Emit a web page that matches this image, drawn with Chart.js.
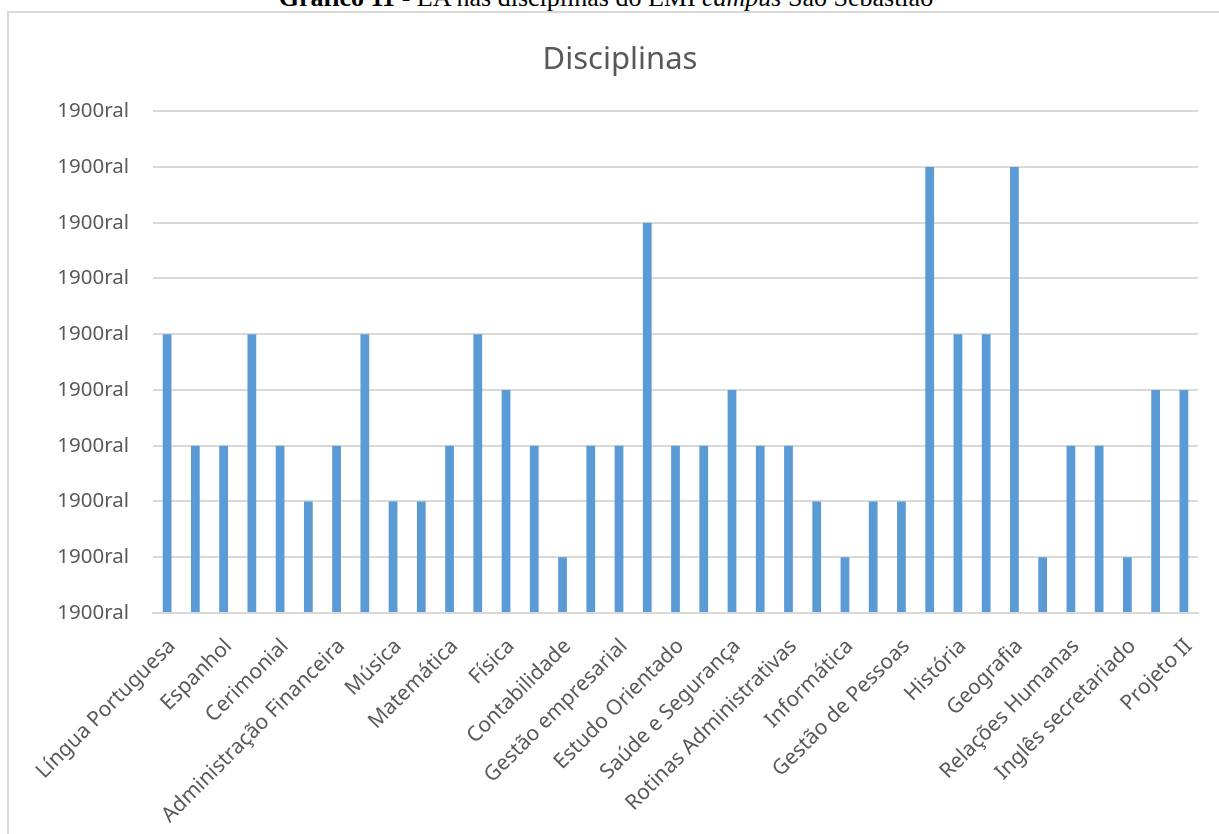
<!DOCTYPE html>
<html lang="pt">
<head>
    <meta charset="UTF-8">
    <title>Disciplinas</title>
    <script src="https://cdn.jsdelivr.net/npm/chart.js"></script>
    <style>
        html, body {
            margin: 0;
            padding: 0;
            width: 1219px;
            height: 834px;
            overflow: hidden;
            background: #fff;
        }

        .legenda {
            position: absolute;
            left: 0;
            width: 1212px;
            top: -15px;
            text-align: center;
            font-family: "Liberation Serif", "Times New Roman", serif;
            font-size: 26px;
            line-height: 26px;
            color: #000;
            white-space: nowrap;
        }

        .moldura {
            position: absolute;
            left: 7px;
            top: 11px;
            width: 1400px;
            height: 1000px;
            border-top: 2px solid #d9d9d9;
            border-left: 2px solid #d9d9d9;
        }

        .grafico {
            position: absolute;
            left: 0;
            top: 0;
            width: 1219px;
            height: 834px;
        }
    </style>
</head>
<body>
    <div class="legenda"><b>Gráfico 11</b> - EA nas disciplinas do EMI <i>campus</i> São Sebastião</div>
    <div class="moldura"></div>
    <div class="grafico">
        <canvas id="disciplinasChart" width="1219" height="834"></canvas>
    </div>

    <script>
        // Disciplinas (só as de índice par aparecem no eixo)
        const disciplinas = [
            'Língua Portuguesa', 'Literatura', 'Espanhol', 'Inglês', 'Cerimonial',
            'Arquivologia', 'Administração Financeira', 'Arte', 'Música', 'Educação Física',
            'Matemática', 'Química', 'Física', 'Biologia', 'Contabilidade',
            'Ética Profissional', 'Gestão empresarial', 'Redação Oficial', 'Estudo Orientado',
            'Sociologia', 'Saúde e Segurança', 'Filosofia', 'Rotinas Administrativas',
            'Técnicas de Secretariado', 'Informática', 'Empreendedorismo', 'Gestão de Pessoas',
            'Projeto I', 'História', 'Comunicação Empresarial', 'Geografia', 'Marketing',
            'Relações Humanas', 'Psicologia Organizacional', 'Inglês secretariado',
            'Gestão de Eventos', 'Projeto II'
        ];

        const ocorrencias = [
            5, 3, 3, 5, 3, 2, 3, 5, 2, 2,
            3, 5, 4, 3, 1, 3, 3, 7, 3, 3,
            4, 3, 3, 2, 1, 2, 2, 8, 5, 5,
            8, 1, 3, 3, 1, 4, 4
        ];

        // o eixo vertical exibe o mesmo rótulo em todas as linhas
        const rotuloEixoY = '1900ral';

        const cinzaTexto = '#595959';
        const cinzaGrade = '#d9d9d9';
        const fonte = '"Noto Sans", "Open Sans", sans-serif';

        const chart = new Chart(document.getElementById('disciplinasChart'), {
            type: 'bar',
            data: {
                labels: disciplinas,
                datasets: [{
                    label: 'Disciplinas',
                    data: ocorrencias,
                    backgroundColor: '#5b9bd5',
                    categoryPercentage: 1,
                    barPercentage: 0.31
                }]
            },
            options: {
                responsive: false,
                animation: false,
                layout: {
                    // padding à esquerda centraliza o título na moldura
                    padding: { left: 42, right: 21, top: 0, bottom: 0 }
                },
                plugins: {
                    legend: { display: false },
                    tooltip: { enabled: false },
                    title: {
                        display: true,
                        text: 'Disciplinas',
                        color: cinzaTexto,
                        font: { family: fonte, size: 31, weight: 'normal' },
                        padding: { top: 42, bottom: 32 }
                    }
                },
                scales: {
                    x: {
                        grid: { display: false },
                        border: { display: true, color: cinzaGrade, width: 2 },
                        ticks: {
                            autoSkip: false,
                            minRotation: 45,
                            maxRotation: 45,
                            padding: 13,
                            labelOffset: 5,
                            color: cinzaTexto,
                            font: { family: fonte, size: 21 },
                            callback: function (value, index) {
                                return index % 2 === 0 ? this.getLabelForValue(value) : '';
                            }
                        },
                        afterFit: (scale) => { scale.height = 221; }
                    },
                    y: {
                        min: 0,
                        max: 9,
                        border: { display: false },
                        grid: {
                            color: cinzaGrade,
                            lineWidth: 2,
                            drawTicks: false
                        },
                        ticks: {
                            stepSize: 1,
                            padding: 24,
                            color: cinzaTexto,
                            font: { family: fonte, size: 20.5 },
                            callback: () => rotuloEixoY
                        },
                        afterFit: (scale) => { scale.width = 111; }
                    }
                }
            }
        });
    </script>
</body>
</html>
